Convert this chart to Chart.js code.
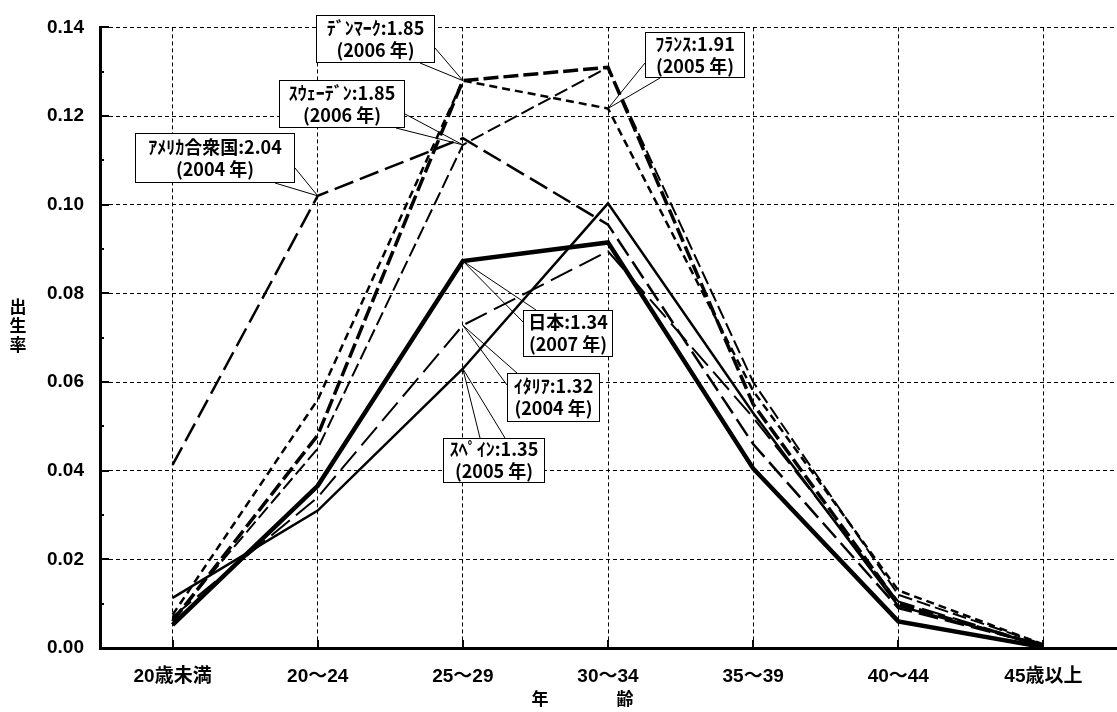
<!DOCTYPE html>
<html>
<head>
<meta charset="utf-8">
<script src="https://cdn.jsdelivr.net/npm/chart.js@4"></script>
<style>
  body { margin: 0; background: #fff; }
  #wrap { position: relative; width: 1117px; height: 712px; }
  #ytitle {
    position: absolute; left: 8px; top: 296px; width: 20px;
    font: bold 17px "Noto Sans CJK JP", sans-serif; line-height: 19px;
    text-align: center; color: #000;
  }
</style>
</head>
<body>
<div id="wrap">
  <canvas id="graph" width="1117" height="712"></canvas>
  <div id="ytitle">出<br>生<br>率</div>
</div>
<script>
// age groups
const ages = ['20歳未満', '20～24', '25～29', '30～34', '35～39', '40～44', '45歳以上'];

// age-specific birth rates
const japan   = [0.0052, 0.0366, 0.0873, 0.0915, 0.0405, 0.0060, 0.0002];
const spain   = [0.0113, 0.0310, 0.0630, 0.1003, 0.0530, 0.0095, 0.0006];
const italy   = [0.0070, 0.0340, 0.0728, 0.0895, 0.0520, 0.0105, 0.0005];
const usa     = [0.0413, 0.1020, 0.1150, 0.0955, 0.0460, 0.0090, 0.0006];
const sweden  = [0.0065, 0.0450, 0.1135, 0.1310, 0.0600, 0.0120, 0.0008];
const denmark = [0.0060, 0.0480, 0.1280, 0.1310, 0.0550, 0.0100, 0.0004];
const france  = [0.0075, 0.0560, 0.1280, 0.1217, 0.0580, 0.0130, 0.0008];

const yTicks = [0, 0.02, 0.04, 0.06, 0.08, 0.10, 0.12, 0.14];

// callout boxes: text, which series/age they point at, box in px, two base points on the box edge
const callouts = [
  { lines: ['ﾃﾞﾝﾏｰｸ:1.85', '(2006 年)'], ds: 5, idx: 2, box: [316, 15, 435, 63], base: [[435, 48], [420, 63]] },
  { lines: ['ｽｳｪｰﾃﾞﾝ:1.85', '(2006 年)'], ds: 4, idx: 2, box: [279, 80, 405, 128], base: [[405, 114], [396, 128]] },
  { lines: ['ｱﾒﾘｶ合衆国:2.04', '(2004 年)'], ds: 3, idx: 1, box: [135, 133, 295, 183], base: [[295, 168], [275, 183]] },
  { lines: ['ﾌﾗﾝｽ:1.91', '(2005 年)'], ds: 6, idx: 3, box: [645, 32, 745, 78], base: [[645, 63], [660, 78]] },
  { lines: ['日本:1.34', '(2007 年)'], ds: 0, idx: 2, box: [523, 310, 613, 357], base: [[523, 322], [536, 310]] },
  { lines: ['ｲﾀﾘｱ:1.32', '(2004 年)'], ds: 2, idx: 2, box: [507, 373, 600, 422], base: [[507, 385], [517, 373]] },
  { lines: ['ｽﾍﾟｲﾝ:1.35', '(2005 年)'], ds: 1, idx: 2, box: [443, 438, 545, 483], base: [[480, 438], [505, 438]] }
];

const fontLat = '"Liberation Sans", "Noto Sans CJK JP", sans-serif';
const fontJp = '"Noto Sans CJK JP", sans-serif';

const extras = {
  id: 'extras',
  afterDraw(chart) {
    const ctx = chart.ctx;
    const xs = chart.scales.x, ys = chart.scales.y;
    const area = chart.chartArea;
    ctx.save();
    // inward tick marks
    ctx.strokeStyle = '#000';
    ctx.lineWidth = 2;
    for (let v = 0; v <= 0.1401; v += 0.01) {
      const y = Math.round(ys.getPixelForValue(v));
      const major = Math.round(v * 100) % 2 === 0;
      ctx.beginPath();
      ctx.moveTo(area.left, y);
      ctx.lineTo(area.left + (major ? 9 : 4), y);
      ctx.stroke();
    }
    ages.forEach((a, i) => {
      const x = Math.round(xs.getPixelForValue(i));
      ctx.beginPath();
      ctx.moveTo(x, area.bottom);
      ctx.lineTo(x, area.bottom - 8);
      ctx.stroke();
    });

    // callouts
    ctx.textAlign = 'center';
    ctx.textBaseline = 'middle';
    callouts.forEach(c => {
      const px = xs.getPixelForValue(c.idx);
      const py = ys.getPixelForValue(chart.data.datasets[c.ds].data[c.idx]);
      const [x1, y1, x2, y2] = c.box;
      ctx.lineWidth = 1;
      ctx.strokeStyle = '#000';
      ctx.beginPath();
      ctx.moveTo(c.base[0][0], c.base[0][1]);
      ctx.lineTo(px, py);
      ctx.lineTo(c.base[1][0], c.base[1][1]);
      ctx.stroke();
      ctx.fillStyle = '#fff';
      ctx.fillRect(x1, y1, x2 - x1, y2 - y1);
      ctx.strokeRect(x1 + 0.5, y1 + 0.5, x2 - x1 - 1, y2 - y1 - 1);
      ctx.fillStyle = '#000';
      ctx.font = 'bold 18px ' + fontJp;
      const cx = (x1 + x2) / 2, cy = (y1 + y2) / 2;
      ctx.fillText(c.lines[0], cx, cy - 11);
      ctx.fillText(c.lines[1], cx, cy + 11);
    });
    ctx.restore();
  }
};

const line = (data, width, dash) => ({
  data: data,
  borderColor: '#000',
  borderWidth: width,
  borderDash: dash,
  pointRadius: 0,
  tension: 0,
  fill: false
});

new Chart(document.getElementById('graph').getContext('2d'), {
  type: 'line',
  data: {
    labels: ages,
    datasets: [
      line(japan, 4.5, []),
      line(spain, 2.5, []),
      line(italy, 2, [24, 8]),
      line(usa, 2.5, [20, 7]),
      line(sweden, 2, [14, 5]),
      line(denmark, 3.5, [15, 5]),
      line(france, 2.5, [8, 5])
    ]
  },
  options: {
    responsive: false,
    animation: false,
    layout: { padding: { top: 13, right: 1, left: 0, bottom: 0 } },
    plugins: { legend: { display: false }, tooltip: { enabled: false } },
    scales: {
      x: {
        offset: true,
        grid: { color: '#000', lineWidth: 1, drawTicks: false },
        border: { display: true, color: '#000', width: 3, dash: [4, 3] },
        ticks: { color: '#000', padding: 17, font: { family: fontLat, size: 19, weight: 'bold' }, maxRotation: 0 },
        title: { display: true, text: '年　　　　齢　　　', color: '#000', padding: { top: 0, bottom: 3 },
                 font: { family: fontJp, size: 17, weight: 'bold' } },
        afterFit(s) { s.height = 64; }
      },
      y: {
        min: 0, max: 0.14,
        afterBuildTicks(s) { s.ticks = yTicks.map(v => ({ value: v })); },
        grid: { color: '#000', lineWidth: 1, drawTicks: false },
        border: { display: true, color: '#000', width: 3, dash: [4, 3] },
        ticks: { color: '#000', padding: 16, font: { family: fontLat, size: 19, weight: 'bold' },
                 callback: v => v.toFixed(2) },
        afterFit(s) { s.width = 100; }
      }
    }
  },
  plugins: [extras]
});
</script>
</body>
</html>
